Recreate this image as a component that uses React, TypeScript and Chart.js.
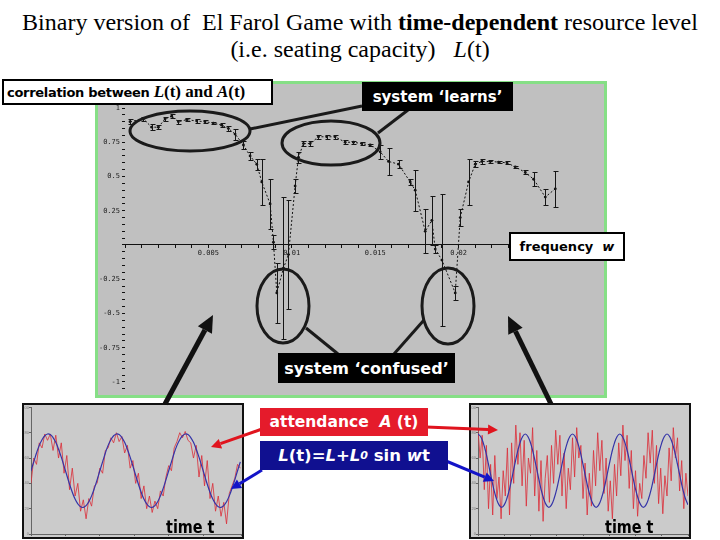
import React, { useEffect, useRef } from "react";
import { Chart, registerables } from "chart.js";
Chart.register(...registerables);

// ---------- main chart: correlation between L(t) and A(t) vs frequency w ----------
const freq = [
  0.0003, 0.0011, 0.0016, 0.002, 0.0024, 0.0028, 0.0032, 0.0037, 0.0043, 0.0048,
  0.0053, 0.0058, 0.0062, 0.0066, 0.0071, 0.0075, 0.0079, 0.0082, 0.0087, 0.0089,
  0.0091, 0.0095, 0.0098, 0.0102, 0.0104, 0.0107, 0.0111, 0.0116, 0.0121, 0.0126,
  0.0132, 0.0137, 0.0142, 0.0147, 0.0153, 0.0158, 0.0164, 0.0171, 0.0174, 0.018,
  0.0184, 0.0186, 0.019, 0.0198, 0.0201, 0.0206, 0.021, 0.0214, 0.0219, 0.0224,
  0.0229, 0.0234, 0.024, 0.0245, 0.0252, 0.0258,
];
const corr = [
  0.9, 0.92, 0.86, 0.86, 0.92, 0.94, 0.9, 0.915, 0.905, 0.9,
  0.89, 0.875, 0.85, 0.81, 0.73, 0.65, 0.59, 0.46, 0.3, 0.02,
  -0.35, -0.17, -0.07, 0.43, 0.64, 0.74, 0.74, 0.79, 0.79, 0.79,
  0.75, 0.75, 0.74, 0.73, 0.68, 0.61, 0.59, 0.46, 0.4, 0.1,
  0.18, -0.03, -0.11, -0.35, 0.2, 0.46, 0.59, 0.61, 0.61, 0.605,
  0.6, 0.57, 0.53, 0.48, 0.35, 0.41,
];
const corrErr = [
  0.02, 0.015, 0.02, 0.015, 0.015, 0.015, 0.015, 0.01, 0.015, 0.01,
  0.01, 0.015, 0.02, 0.04, 0.03, 0.03, 0.04, 0.17, 0.18, 0.05,
  0.22, 0.52, 0.4, 0.05, 0.04, 0.02, 0.02, 0.015, 0.015, 0.015,
  0.015, 0.01, 0.01, 0.01, 0.05, 0.1, 0.03, 0.02, 0.15, 0.16,
  0.18, 0.03, 0.48, 0.05, 0.06, 0.17, 0.02, 0.02, 0.01, 0.01,
  0.01, 0.01, 0.015, 0.05, 0.06, 0.13,
];
const xTickValues = [0.005, 0.01, 0.015, 0.02, 0.025];
const xTickLabels = ["0.005", "0.01", "0.015", "0.02", "0.025"];
const yTickValues = [-1, -0.75, -0.5, -0.25, 0.25, 0.5, 0.75, 1];
const yTickLabels = ["-1", "-0.75", "-0.5", "-0.25", "0.25", "0.5", "0.75", "1"];

// ---------- bottom-left: slow L(t), attendance follows ----------
const leftStep = 4;
const leftAttendance = [
  40, 60, 55, 72, 68, 79, 74, 79, 66, 78, 60, 72, 48, 62, 35, 52, 30, 40, 18, 27, 12, 28, 22, 38, 40,
  52, 48, 66, 68, 76, 72, 80, 73, 77, 64, 70, 52, 58, 40, 48, 28, 38, 20, 30, 17, 26, 20, 34, 30, 45,
  54, 50, 68, 73, 80, 76, 81, 74, 72, 60, 70, 45, 62, 38, 58, 28, 40, 18, 30, 14, 25, 8, 32, 38, 44,
  55, 52,
];
const leftLevel = [
  50, 57, 64, 70, 74.5, 77.6, 79, 78.5, 76.2, 72.4, 67, 60.7, 53.6, 46.4, 39.3, 33, 27.6, 23.8, 21.5, 21, 22.4, 25.5, 30.1, 36, 42.8,
  50, 57, 64, 70, 74.5, 77.6, 79, 78.5, 76.2, 72.4, 67, 60.7, 53.6, 46.4, 39.3, 33, 27.6, 23.8, 21.5, 21, 22.4, 25.5, 30.1, 36, 42.8,
  50, 57, 64, 70, 74.5, 77.6, 79, 78.5, 76.2, 72.4, 67, 60.7, 53.6, 46.4, 39.3, 33, 27.6, 23.8, 21.5, 21, 22.4, 25.5, 30.1, 36, 42.8,
  50, 57,
];

// ---------- bottom-right: fast L(t), attendance confused ----------
const rightAttStep = 4;
const rightAttendance = [
  82, 60, 78, 35, 70, 20, 55, 15, 62, 28,
  45, 12, 50, 30, 68, 15, 72, 40, 86, 55,
  80, 38, 74, 22, 60, 48, 84, 30, 66, 18,
  58, 10, 44, 62, 25, 70, 40, 82, 55, 78,
  30, 64, 20, 52, 35, 76, 45, 84, 60, 70,
  28, 56, 15, 48, 22, 66, 38, 80, 50, 74,
  32, 60, 18, 42, 12, 55, 30, 72, 46, 86,
  58, 78, 36, 66, 20, 50, 14, 40, 28, 62,
  44, 80, 56, 82, 40, 70, 24, 52, 16, 46,
  30, 68, 42, 84, 60, 76, 34, 58, 20, 48,
  30,
];
const rightLevelStep = 5;
const rightLevel = [
  79, 77, 72, 64.5, 55, 45, 35.5, 28, 23, 21, 23, 28, 35.5, 45, 55, 64.5, 72, 77,
  79, 77, 72, 64.5, 55, 45, 35.5, 28, 23, 21, 23, 28, 35.5, 45, 55, 64.5, 72, 77,
  79, 77, 72, 64.5, 55, 45, 35.5, 28, 23, 21, 23, 28, 35.5, 45, 55, 64.5, 72, 77,
  79, 77, 72, 64.5, 55, 45, 35.5, 28, 23, 21, 23, 28, 35.5, 45, 55, 64.5, 72, 77,
  79, 77, 72, 64.5, 55, 45, 35.5, 28, 23,
];

const lookup = (vals: number[], labels: string[]) => (v: any) => {
  const i = vals.findIndex((t) => Math.abs(t - Number(v)) < 1e-9);
  return i >= 0 ? labels[i] : "";
};

const errorBarPlugin = {
  id: "errorBars",
  afterDatasetsDraw(chart: any) {
    const { ctx, scales } = chart;
    const x = scales.x;
    const y = scales.y;
    ctx.save();
    ctx.strokeStyle = "#151515";
    ctx.lineWidth = 1;
    freq.forEach((f, i) => {
      const e = corrErr[i];
      const px = Math.round(x.getPixelForValue(f)) + 0.5;
      const y1 = Math.round(y.getPixelForValue(corr[i] + e)) + 0.5;
      const y2 = Math.round(y.getPixelForValue(corr[i] - e)) + 0.5;
      ctx.beginPath();
      ctx.moveTo(px, y1);
      ctx.lineTo(px, y2);
      ctx.moveTo(px - 2, y1);
      ctx.lineTo(px + 3, y1);
      ctx.moveTo(px - 2, y2);
      ctx.lineTo(px + 3, y2);
      ctx.stroke();
    });
    ctx.restore();
  },
};

function MainChart() {
  const ref = useRef<HTMLCanvasElement>(null);
  useEffect(() => {
    const chart = new Chart(ref.current as HTMLCanvasElement, {
      type: "line",
      data: {
        datasets: [
          {
            data: freq.map((f, i) => ({ x: f, y: corr[i] })),
            borderColor: "#111",
            borderWidth: 1,
            borderDash: [2, 2],
            pointRadius: 1.4,
            pointBackgroundColor: "#111",
            pointBorderWidth: 0,
            tension: 0,
          },
        ],
      },
      options: {
        animation: false,
        responsive: false,
        maintainAspectRatio: false,
        plugins: { legend: { display: false }, tooltip: { enabled: false } },
        layout: { padding: { top: 0, right: 12, bottom: 0, left: 0 } },
        scales: {
          x: {
            type: "linear",
            position: { y: 0 } as any,
            min: 0,
            max: 0.028,
            border: { display: true, color: "#111", width: 1 },
            grid: { drawOnChartArea: false, tickLength: 3, color: "#111" },
            ticks: {
              stepSize: 0.001,
              autoSkip: false,
              maxRotation: 0,
              includeBounds: false,
              padding: 1,
              color: "#222",
              font: { size: 7, family: "DejaVu Sans Mono" },
              callback: lookup(xTickValues, xTickLabels),
            },
          },
          y: {
            type: "linear",
            position: "left",
            min: -1.05,
            max: 1.13,
            border: { display: false },
            grid: { drawOnChartArea: false, tickLength: 3, color: "#111" },
            afterFit: (s: any) => {
              s.width = 27;
            },
            ticks: {
              stepSize: 0.05,
              autoSkip: false,
              includeBounds: false,
              padding: 2,
              color: "#222",
              font: { size: 7, family: "DejaVu Sans Mono" },
              callback: lookup(yTickValues, yTickLabels),
            },
          },
        },
      },
      plugins: [errorBarPlugin],
    } as any);
    return () => chart.destroy();
  }, []);
  return <canvas ref={ref} width={506} height={311} style={{ display: "block", width: 506, height: 311 }} />;
}

function SmallChart(props: { att: number[]; attStep: number; lev: number[]; levStep: number; xMax: number }) {
  const ref = useRef<HTMLCanvasElement>(null);
  useEffect(() => {
    const { att, attStep, lev, levStep, xMax } = props;
    const chart = new Chart(ref.current as HTMLCanvasElement, {
      type: "line",
      data: {
        datasets: [
          {
            data: lev.map((v, i) => ({ x: i * levStep, y: v })),
            borderColor: "#3434a8",
            borderWidth: 1.2,
            pointRadius: 0,
            tension: 0.4,
          },
          {
            data: att.map((v, i) => ({ x: i * attStep, y: v })),
            borderColor: "rgba(218,48,58,0.82)",
            borderWidth: 1,
            pointRadius: 0,
            tension: 0,
          },
        ],
      },
      options: {
        animation: false,
        responsive: false,
        maintainAspectRatio: false,
        plugins: { legend: { display: false }, tooltip: { enabled: false } },
        layout: { padding: { top: 0, right: 1, bottom: 0, left: 0 } },
        scales: {
          x: {
            type: "linear",
            min: 0,
            max: xMax,
            border: { color: "#666", width: 1 },
            grid: { drawOnChartArea: false, tickLength: 2, color: "#666" },
            afterFit: (s: any) => {
              s.height = 3;
            },
            ticks: { stepSize: 50, display: false },
          },
          y: {
            type: "linear",
            min: 0,
            max: 100,
            border: { color: "#666", width: 1 },
            grid: { drawOnChartArea: false, tickLength: 2, color: "#666" },
            afterFit: (s: any) => {
              s.width = 7;
            },
            ticks: { stepSize: 20, padding: 0, color: "#777", font: { size: 4 } },
          },
        },
      },
    } as any);
    return () => chart.destroy();
  }, []);
  return <canvas ref={ref} width={218} height={132} style={{ display: "block", width: 218, height: 132 }} />;
}

function arrowPath(x1: number, y1: number, x2: number, y2: number, w: number, hl: number, hw: number, color: string, key: string) {
  const dx = x2 - x1;
  const dy = y2 - y1;
  const len = Math.sqrt(dx * dx + dy * dy);
  const ux = dx / len;
  const uy = dy / len;
  const bx = x2 - ux * hl;
  const by = y2 - uy * hl;
  const nx = -uy;
  const ny = ux;
  const pts = `${x2},${y2} ${bx + nx * hw},${by + ny * hw} ${bx - nx * hw},${by - ny * hw}`;
  return (
    <g key={key}>
      <line x1={x1} y1={y1} x2={bx} y2={by} stroke={color} strokeWidth={w} />
      <polygon points={pts} fill={color} />
    </g>
  );
}

const sans = "'DejaVu Sans', Verdana, sans-serif";
const serif = "'Liberation Serif', 'Times New Roman', serif";

export default function App() {
  const abs: React.CSSProperties = { position: "absolute", boxSizing: "border-box" };
  const boxText: React.CSSProperties = {
    ...abs,
    display: "flex",
    alignItems: "center",
    justifyContent: "center",
    whiteSpace: "pre",
    fontFamily: sans,
    fontWeight: "bold",
  };
  const timeLabel: React.CSSProperties = {
    ...abs,
    top: 517,
    fontFamily: sans,
    fontWeight: "bold",
    fontSize: 18,
    lineHeight: "20px",
    color: "#000",
    whiteSpace: "pre",
    transform: "scaleX(0.8)",
    transformOrigin: "left top",
  };
  return (
    <div style={{ position: "absolute", left: 0, top: 0, width: 720, height: 540, background: "#fff", overflow: "hidden" }}>
      {/* title */}
      <div style={{ ...abs, left: 0, top: 10, width: 720, textAlign: "center", fontFamily: serif, fontSize: 24, lineHeight: "24px", whiteSpace: "pre", color: "#000" }}>
        Binary version of  El Farol Game with <b>time-dependent</b> resource level
      </div>
      <div style={{ ...abs, left: 0, top: 37, width: 720, textAlign: "center", fontFamily: serif, fontSize: 24, lineHeight: "24px", whiteSpace: "pre", color: "#000" }}>
        (i.e. seating capacity)   <i>L</i>(t)
      </div>

      {/* main chart panel */}
      <div style={{ ...abs, left: 95, top: 81, width: 512, height: 317, border: "3px solid #86df86", background: "#c0c0c0" }}>
        <MainChart />
      </div>

      {/* bottom charts */}
      <div style={{ ...abs, left: 22, top: 403, width: 222, height: 136, border: "2px solid #111", background: "#cbcbcb" }}>
        <SmallChart att={leftAttendance} attStep={leftStep} lev={leftLevel} levStep={leftStep} xMax={305} />
      </div>
      <div style={{ ...abs, left: 469, top: 403, width: 222, height: 136, border: "2px solid #111", background: "#cbcbcb" }}>
        <SmallChart att={rightAttendance} attStep={rightAttStep} lev={rightLevel} levStep={rightLevelStep} xMax={400} />
      </div>

      {/* annotations: ellipses, connectors, arrows */}
      <svg width={720} height={540} style={{ position: "absolute", left: 0, top: 0, pointerEvents: "none" }}>
        <g fill="none" stroke="#1a1a1a" strokeWidth={3}>
          <ellipse cx={190} cy={131} rx={60} ry={20} />
          <ellipse cx={331} cy={143} rx={49} ry={22} />
          <ellipse cx={283} cy={306} rx={26} ry={37} />
          <ellipse cx={448} cy={306} rx={26} ry={38} />
          <line x1={250} y1={129} x2={362} y2={106} />
          <line x1={378} y1={133} x2={408} y2={110} />
          <line x1={306} y1={328} x2={338} y2={354} />
          <line x1={424} y1={320} x2={394} y2={354} />
        </g>
        {arrowPath(165, 404, 213, 315, 5, 17, 8, "#111", "a1")}
        {arrowPath(551, 404, 508, 316, 5, 17, 8, "#111", "a2")}
        {arrowPath(262, 429, 211, 447, 3, 10, 5, "#e0141e", "r1")}
        {arrowPath(426, 427, 498, 430, 3, 10, 5, "#e0141e", "r2")}
        {arrowPath(262, 470, 231, 489, 3, 10, 5, "#1414c8", "b1")}
        {arrowPath(446, 461, 494, 481, 3, 10, 5, "#1414c8", "b2")}
      </svg>

      {/* labels */}
      <div style={{ ...boxText, left: 2, top: 79, width: 271, height: 26, border: "2px solid #000", background: "#fff", justifyContent: "flex-start", paddingLeft: 3, color: "#000" }}>
        <span style={{ fontSize: 13, letterSpacing: -0.3 }}>correlation between </span>
        <span style={{ fontFamily: serif, fontSize: 17, fontWeight: "bold" }}>
          <i>L</i>(t) and <i>A</i>(t)
        </span>
      </div>
      <div style={{ ...boxText, left: 362, top: 82, width: 151, height: 29, background: "#000", color: "#fff", fontSize: 15 }}>
        system ‘learns’
      </div>
      <div style={{ ...boxText, left: 509, top: 232, width: 116, height: 29, border: "2px solid #000", background: "#fff", color: "#000", fontSize: 13 }}>
        frequency  <i>w</i>
      </div>
      <div style={{ ...boxText, left: 278, top: 353, width: 177, height: 30, background: "#000", color: "#fff", fontSize: 16 }}>
        system ‘confused’
      </div>
      <div style={{ ...boxText, left: 260, top: 408, width: 168, height: 28, background: "#e51b2b", color: "#fff", fontSize: 15.5 }}>
        attendance  <i>A</i> (t)
      </div>
      <div style={{ ...boxText, left: 260, top: 441, width: 188, height: 29, background: "#101090", color: "#fff", fontSize: 16.5 }}>
        <i>L</i>(t)=<i>L</i>+<i>L</i>
        <sub style={{ fontSize: 11, fontStyle: "italic" }}>0</sub> sin <i>w</i>t
      </div>
      <div style={{ ...timeLabel, left: 166 }}>time t</div>
      <div style={{ ...timeLabel, left: 605 }}>time t</div>
    </div>
  );
}
